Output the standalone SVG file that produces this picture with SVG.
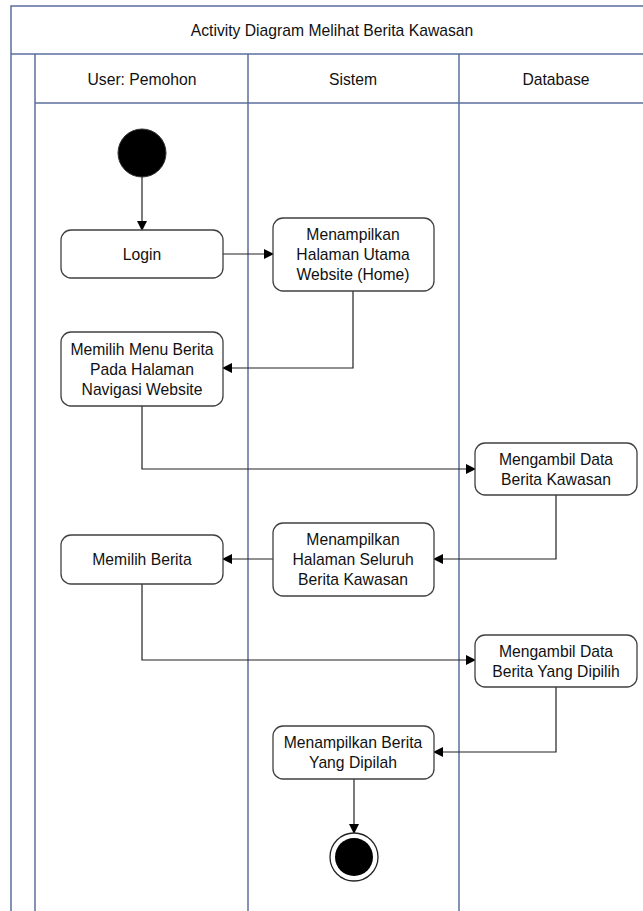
<svg xmlns="http://www.w3.org/2000/svg" width="643" height="911" viewBox="0 0 643 911">
<style>
.lane{fill:none;stroke:#5a6e9c;stroke-width:1.5}
.node{fill:#fff;stroke:#404040;stroke-width:1.3}
.t{font-family:"Liberation Sans",Arial,sans-serif;font-size:15.7px;fill:#111;text-anchor:middle}
.c{fill:none;stroke:#222;stroke-width:1.2}
</style>
<defs>
<marker id="ah" markerWidth="10" markerHeight="10" refX="9" refY="5" orient="auto" markerUnits="userSpaceOnUse">
<path d="M0,0 L10,5 L0,10 Z" fill="#000"/>
</marker>
</defs>
<rect width="643" height="911" fill="#fff"/>
<g id="frame">
<rect class="lane" x="11" y="6" width="640" height="920"/>
<line class="lane" x1="11" y1="54" x2="643" y2="54"/>
<line class="lane" x1="35" y1="54" x2="35" y2="911"/>
<line class="lane" x1="248" y1="54" x2="248" y2="911"/>
<line class="lane" x1="459" y1="54" x2="459" y2="911"/>
<line class="lane" x1="35" y1="103" x2="643" y2="103"/>
<text class="t" x="332" y="36">Activity Diagram Melihat Berita Kawasan</text>
<text class="t" x="142" y="85">User: Pemohon</text>
<text class="t" x="353" y="85">Sistem</text>
<text class="t" x="556" y="85">Database</text>
</g>
<g id="connectors">
<line class="c" x1="142" y1="176" x2="142" y2="230" marker-end="url(#ah)"/>
<line class="c" x1="223" y1="254" x2="273" y2="254" marker-end="url(#ah)"/>
<polyline class="c" points="353,291 353,368 223,368" marker-end="url(#ah)"/>
<polyline class="c" points="142,406 142,469 475,469" marker-end="url(#ah)"/>
<polyline class="c" points="556,495 556,559 434,559" marker-end="url(#ah)"/>
<line class="c" x1="273" y1="559" x2="223" y2="559" marker-end="url(#ah)"/>
<polyline class="c" points="142,584 142,660 475,660" marker-end="url(#ah)"/>
<polyline class="c" points="556,687 556,752 434,752" marker-end="url(#ah)"/>
<line class="c" x1="354" y1="779" x2="354" y2="833" marker-end="url(#ah)"/>
</g>
<g id="start"><circle cx="142" cy="153" r="24" fill="#000" stroke="#333" stroke-width="1"/></g>
<g id="login"><rect class="node" x="61" y="230" width="162" height="48" rx="10"/><text class="t" x="142" y="260">Login</text></g>
<g id="home"><rect class="node" x="273" y="218" width="161" height="73" rx="10"/>
<text class="t" x="353" y="240">Menampilkan</text><text class="t" x="353" y="260">Halaman Utama</text><text class="t" x="353" y="280">Website (Home)</text></g>
<g id="menu"><rect class="node" x="61" y="332" width="162" height="74" rx="10"/>
<text class="t" x="142" y="355">Memilih Menu Berita</text><text class="t" x="142" y="375">Pada Halaman</text><text class="t" x="142" y="395">Navigasi Website</text></g>
<g id="ambil1"><rect class="node" x="475" y="443" width="162" height="52" rx="10"/>
<text class="t" x="556" y="465">Mengambil Data</text><text class="t" x="556" y="485">Berita Kawasan</text></g>
<g id="seluruh"><rect class="node" x="273" y="523" width="161" height="73" rx="10"/>
<text class="t" x="353" y="545">Menampilkan</text><text class="t" x="353" y="565">Halaman Seluruh</text><text class="t" x="353" y="585">Berita Kawasan</text></g>
<g id="pilih"><rect class="node" x="61" y="535" width="162" height="49" rx="10"/><text class="t" x="142" y="565">Memilih Berita</text></g>
<g id="ambil2"><rect class="node" x="475" y="635" width="162" height="52" rx="10"/>
<text class="t" x="556" y="657">Mengambil Data</text><text class="t" x="556" y="677">Berita Yang Dipilih</text></g>
<g id="tampil"><rect class="node" x="273" y="726" width="161" height="53" rx="10"/>
<text class="t" x="353" y="748">Menampilkan Berita</text><text class="t" x="353" y="768">Yang Dipilah</text></g>
<g id="end"><circle cx="354" cy="857" r="24" fill="#fff" stroke="#222" stroke-width="1.3"/><circle cx="354" cy="857" r="19" fill="#000"/></g>
</svg>
